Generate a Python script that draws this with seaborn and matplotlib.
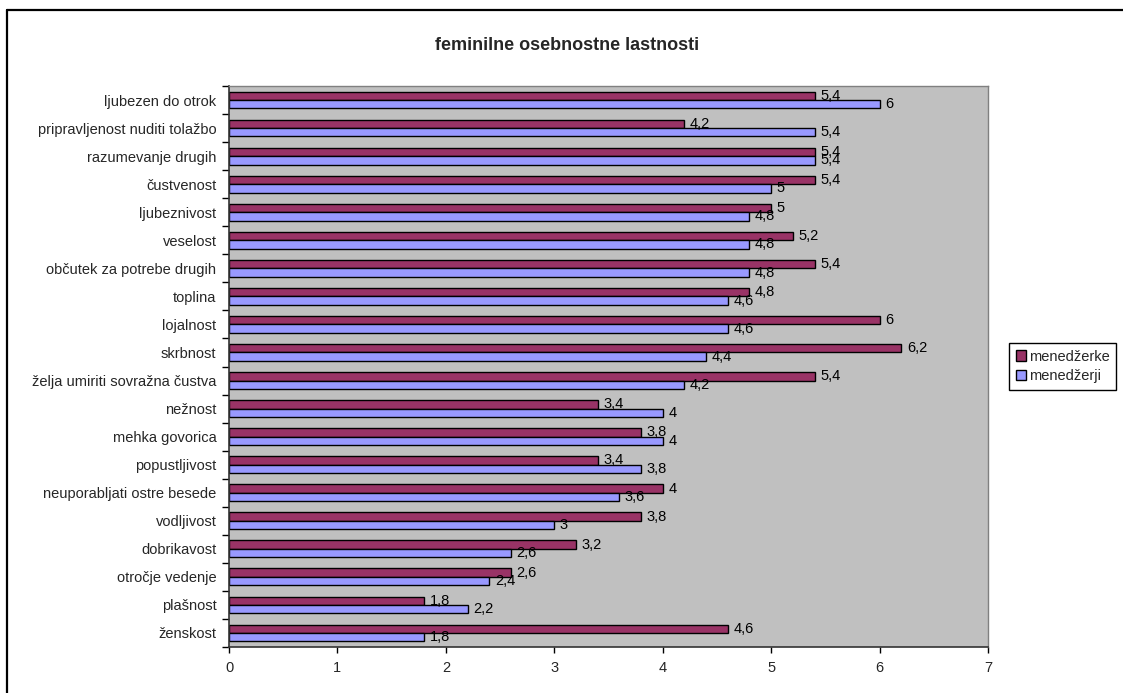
import matplotlib
matplotlib.use("Agg")
import matplotlib.pyplot as plt
from matplotlib.lines import Line2D
from matplotlib.ticker import FixedLocator
import pandas as pd
import seaborn as sns

# Personality traits, listed top to bottom
lastnosti = [
    "ljubezen do otrok",
    "pripravljenost nuditi tolažbo",
    "razumevanje drugih",
    "čustvenost",
    "ljubeznivost",
    "veselost",
    "občutek za potrebe drugih",
    "toplina",
    "lojalnost",
    "skrbnost",
    "želja umiriti sovražna čustva",
    "nežnost",
    "mehka govorica",
    "popustljivost",
    "neuporabljati ostre besede",
    "vodljivost",
    "dobrikavost",
    "otročje vedenje",
    "plašnost",
    "ženskost",
]
menedzerke = [5.4, 4.2, 5.4, 5.4, 5.0, 5.2, 5.4, 4.8, 6.0, 6.2,
              5.4, 3.4, 3.8, 3.4, 4.0, 3.8, 3.2, 2.6, 1.8, 4.6]
menedzerji = [6.0, 5.4, 5.4, 5.0, 4.8, 4.8, 4.8, 4.6, 4.6, 4.4,
              4.2, 4.0, 4.0, 3.8, 3.6, 3.0, 2.6, 2.4, 2.2, 1.8]
skupine = ["menedžerke", "menedžerji"]
x_ticks = [0, 1, 2, 3, 4, 5, 6, 7]

df = pd.DataFrame({
    "lastnost": lastnosti * 2,
    "vrednost": menedzerke + menedzerji,
    "skupina": [skupine[0]] * len(lastnosti) + [skupine[1]] * len(lastnosti),
})

sns.set_theme(style="white")
plt.rcParams["font.family"] = ["Liberation Sans", "DejaVu Sans"]

W, H = 1123, 693
fig = plt.figure(figsize=(W / 100, H / 100), dpi=100)
fig.patch.set_facecolor("white")
ax = fig.add_axes([229 / W, (H - 647) / H, (988 - 229) / W, (647 - 86) / H])
ax.set_facecolor("#C0C0C0")

barve = ["#993366", "#9999FF"]
sns.barplot(data=df, y="lastnost", x="vrednost", hue="skupina", orient="h",
            order=lastnosti, hue_order=skupine, palette=barve,
            width=0.6, gap=0, edgecolor="black", linewidth=1.0,
            saturation=1, ax=ax)

for cont in ax.containers:
    vals = [r.get_width() for r in cont]
    ax.bar_label(cont, labels=[f"{v:g}".replace(".", ",") for v in vals],
                 padding=4, fontsize=10.5, color="black")

ax.set_xlim(0, 7)
ax.set_xticks(x_ticks)
ax.set_xlabel("")
ax.set_ylabel("")
ax.tick_params(axis="x", direction="out", length=4, width=1, color="black",
               labelsize=10.5, pad=6, bottom=True)
ax.tick_params(axis="y", which="major", length=0, labelsize=10.5, pad=9)
ax.yaxis.set_minor_locator(FixedLocator([i - 0.5 for i in range(len(lastnosti) + 1)]))
ax.tick_params(axis="y", which="minor", direction="out", length=5, width=1,
               color="black", left=True)

for side in ("left", "bottom"):
    ax.spines[side].set_color("#333333")
    ax.spines[side].set_linewidth(1.2)
for side in ("top", "right"):
    ax.spines[side].set_color("#808080")
    ax.spines[side].set_linewidth(1.0)

ax.legend_.remove()
handles = [plt.Rectangle((0, 0), 1, 1, facecolor=c, edgecolor="black", linewidth=1)
           for c in barve]
fig.legend(handles, skupine, loc="upper left",
           bbox_to_anchor=(1009 / W, 1 - 343 / H), fontsize=10.5,
           frameon=True, fancybox=False, edgecolor="black", framealpha=1,
           handlelength=0.7, handleheight=0.7, handletextpad=0.2,
           borderpad=0.45, labelspacing=0.4, borderaxespad=0)

fig.text(567 / W, 1 - 45 / H, "feminilne osebnostne lastnosti",
         ha="center", va="center", fontsize=13, fontweight="bold")

# Chart frame
fig.add_artist(Line2D([7 / W, 7 / W], [1 - 10 / H, 0], color="black",
                      linewidth=1.6, transform=fig.transFigure))
fig.add_artist(Line2D([7 / W, 1], [1 - 10 / H, 1 - 10 / H], color="black",
                      linewidth=1.6, transform=fig.transFigure))

fig.savefig("out.png", dpi=100)
